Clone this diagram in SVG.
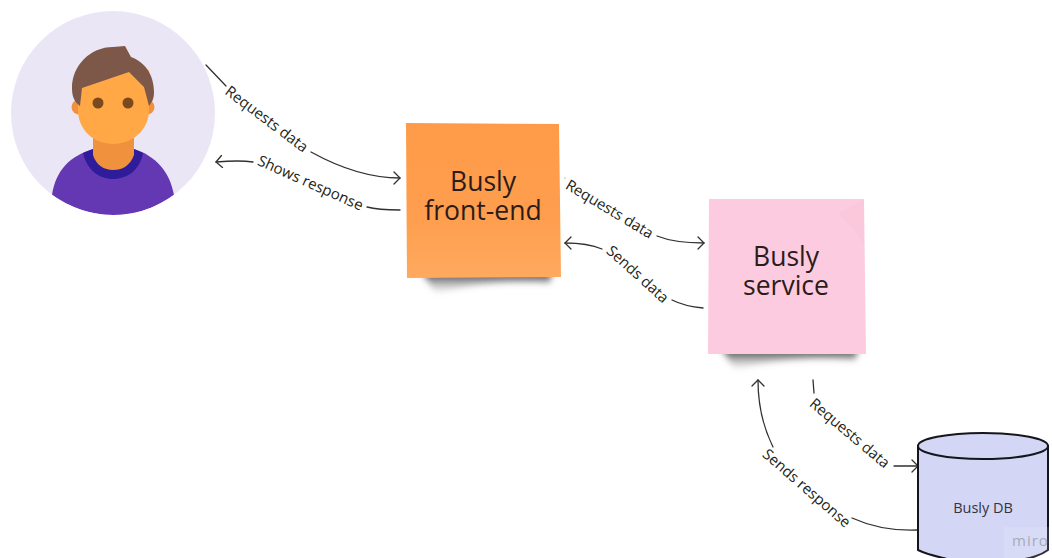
<svg xmlns="http://www.w3.org/2000/svg" width="1052" height="558" viewBox="0 0 1052 558">
<style>
.t{font-family:"Open Sans","Noto Sans",sans-serif;fill:#231f20}
.l{font-size:15px;text-anchor:middle;dominant-baseline:middle}
.s{font-size:26.5px;text-anchor:middle;fill:#2b1c1a}
.c{fill:none;stroke:#33302f;stroke-width:1.3;stroke-linecap:round}
</style>
<defs>
<linearGradient id="og" x1="0" y1="0" x2="0" y2="1"><stop offset="0" stop-color="#fe9b49"/><stop offset="0.6" stop-color="#fe9e4e"/><stop offset="1" stop-color="#ffa95f"/></linearGradient>
<linearGradient id="sd" x1="0" y1="0" x2="0" y2="1"><stop offset="0" stop-color="#333"/><stop offset="1" stop-color="#999" stop-opacity="0"/></linearGradient>
<filter id="sh" x="-20%" y="-100%" width="140%" height="300%"><feGaussianBlur stdDeviation="3"/></filter>
<clipPath id="cc"><circle cx="113" cy="113" r="102"/></clipPath>
<marker id="a" markerWidth="14" markerHeight="14" refX="11" refY="7" orient="auto" markerUnits="userSpaceOnUse"><path d="M5 1L11 7L5 13" fill="none" stroke="#33302f" stroke-width="1.3" stroke-linecap="round"/></marker>
</defs>
<rect width="1052" height="558" fill="#fff"/>
<g id="user">
<circle cx="113" cy="113" r="102" fill="#ebe6f5"/>
<g clip-path="url(#cc)">
<path d="M52 195C56 170 70 156 93 149H134C156 156 170 172 174 195C155 208 135 216 113 215C90 215 70 207 52 195Z" fill="#6538b3"/>
<path d="M83 153L93 149H134L143 153C140 170 127 179 113 179C99 179 87 170 83 153Z" fill="#2f1c9a"/>
<path d="M93 135H134V155C130 166 122 170 113 170C104 170 96 165 93 155Z" fill="#f0913e"/>
<circle cx="79" cy="107" r="7.5" fill="#f0913e"/><circle cx="147" cy="107" r="7.5" fill="#f0913e"/>
<path d="M78 70H149V110C149 130 132 144 113 144C94 144 78 130 78 110Z" fill="#ffa845"/>
<path d="M80 106C75 102 72 98 72 88C72 66 90 47 113 47L125 46L131 57C145 62 154 75 154 92C154 99 152 102 149 106L144 87L129 72L82 88Z" fill="#7d5747"/>
<circle cx="98" cy="103" r="5.5" fill="#7a4a1e"/><circle cx="128" cy="103" r="5.5" fill="#7a4a1e"/>
</g>
</g>
<g id="connectors">
<path class="c" d="M206 65L226 86"/>
<path class="c" d="M311 152C340 168 370 178 400 178" marker-end="url(#a)"/>
<path class="c" d="M253 162C240 160 228 161 216 162" marker-end="url(#a)"/>
<path class="c" d="M367 207C378 210 389 210 400 210"/>
<circle cx="565" cy="178" r="0.6" fill="#777"/>
<path class="c" d="M657 236C672 242 688 243 704 243" marker-end="url(#a)"/>
<path class="c" d="M602 249C590 244 578 243 565 243" marker-end="url(#a)"/>
<path class="c" d="M672 300C682 305 692 307 703 308"/>
<path class="c" d="M813 380L814 393"/>
<path class="c" d="M894 466L918 466" marker-end="url(#a)"/>
<path class="c" d="M773 447C763 427 758 405 758 380" marker-end="url(#a)"/>
<path class="c" d="M852 518C872 527 895 531 918 530"/>
</g>
<g id="labels">
<text class="t l" transform="translate(266 120) rotate(37)">Requests data</text>
<text class="t l" transform="translate(310 184) rotate(24)">Shows response</text>
<text class="t l" transform="translate(609 210) rotate(31)">Requests data</text>
<text class="t l" transform="translate(637 275) rotate(42)">Sends data</text>
<text class="t l" transform="translate(849 434) rotate(40)">Requests data</text>
<text class="t l" transform="translate(806 489) rotate(41)">Sends response</text>
</g>
<g id="front-end">
<path d="M422 272H552L550 283C510 280 465 284 436 294Z" fill="url(#sd)" filter="url(#sh)"/>
<path d="M406 123L559 124L561 277L407 278Z" fill="url(#og)"/>
<text class="t s"><tspan x="483" y="191">Busly</tspan><tspan x="483" y="220">front-end</tspan></text>
</g>
<g id="service">
<path d="M722 349H858L855 360C815 356 765 360 735 370Z" fill="url(#sd)" filter="url(#sh)"/>
<path d="M709 199L864 199L866 354L708 354Z" fill="#fdcbdf"/>
<path d="M864 199V244C856 232 846 222 838 214Z" fill="#f9c3d8" opacity=".5"/>
<text class="t s"><tspan x="786" y="266">Busly</tspan><tspan x="786" y="295">service</tspan></text>
</g>
<g id="db">
<path d="M918 446V550C930 556 945 558 950 560H1020C1030 558 1040 556 1048 550V446Z" fill="#d3d6f5" stroke="#15151c" stroke-width="2"/>
<ellipse cx="983" cy="446" rx="65" ry="13" fill="#d3d6f5" stroke="#15151c" stroke-width="2"/>
<text class="t" x="983" y="513" font-size="14.5" text-anchor="middle" style="fill:#33333f">Busly DB</text>
</g>
<rect x="1004" y="527" width="48" height="31" fill="#fff" opacity=".12"/>
<text x="1012" y="546" font-family="Open Sans,sans-serif" font-size="15" letter-spacing="1" fill="#a9a9ba">miro</text>
</svg>
